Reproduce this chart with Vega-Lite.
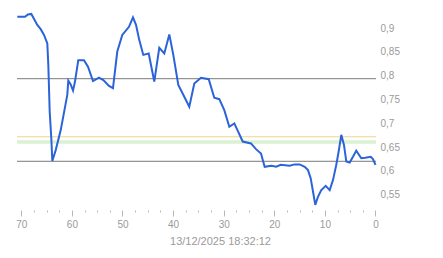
{
  "$schema": "https://vega.github.io/schema/vega-lite/v6.json",
  "autosize": {"type": "none"},
  "padding": {"left": 17, "top": 0, "right": 67, "bottom": 48},
  "width": 359,
  "height": 210,
  "background": "white",
  "config": {
    "view": {"stroke": null},
    "font": "Liberation Sans"
  },
  "datasets": {
    "series": [
      {"t": 70.79, "v": 0.930}, {"t": 69.27, "v": 0.930}, {"t": 68.68, "v": 0.935}, {"t": 68.02, "v": 0.936},
      {"t": 66.84, "v": 0.913}, {"t": 66.17, "v": 0.904}, {"t": 65.51, "v": 0.892}, {"t": 64.86, "v": 0.874},
      {"t": 64.66, "v": 0.829}, {"t": 64.39, "v": 0.731}, {"t": 64.07, "v": 0.675}, {"t": 63.87, "v": 0.627},
      {"t": 63.2, "v": 0.650}, {"t": 62.21, "v": 0.692}, {"t": 60.91, "v": 0.766}, {"t": 60.71, "v": 0.796},
      {"t": 60.24, "v": 0.788}, {"t": 59.78, "v": 0.775}, {"t": 59.39, "v": 0.794}, {"t": 58.74, "v": 0.839},
      {"t": 57.61, "v": 0.839}, {"t": 56.82, "v": 0.825}, {"t": 55.83, "v": 0.795}, {"t": 54.65, "v": 0.802},
      {"t": 53.79, "v": 0.797}, {"t": 52.67, "v": 0.785}, {"t": 51.88, "v": 0.780}, {"t": 51.03, "v": 0.857},
      {"t": 50.04, "v": 0.892}, {"t": 48.72, "v": 0.909}, {"t": 47.93, "v": 0.929}, {"t": 47.33, "v": 0.913},
      {"t": 46.68, "v": 0.881}, {"t": 45.89, "v": 0.850}, {"t": 44.82, "v": 0.853}, {"t": 43.72, "v": 0.794},
      {"t": 42.73, "v": 0.865}, {"t": 41.74, "v": 0.853}, {"t": 40.75, "v": 0.893}, {"t": 39.96, "v": 0.850},
      {"t": 38.97, "v": 0.787}, {"t": 37.79, "v": 0.762}, {"t": 36.80, "v": 0.741}, {"t": 35.81, "v": 0.790},
      {"t": 34.49, "v": 0.802}, {"t": 32.96, "v": 0.799}, {"t": 31.86, "v": 0.760}, {"t": 30.87, "v": 0.757},
      {"t": 29.88, "v": 0.734}, {"t": 28.89, "v": 0.699}, {"t": 27.90, "v": 0.706}, {"t": 26.24, "v": 0.668},
      {"t": 24.61, "v": 0.664}, {"t": 23.62, "v": 0.652}, {"t": 22.63, "v": 0.643}, {"t": 21.90, "v": 0.615},
      {"t": 20.59, "v": 0.617}, {"t": 19.61, "v": 0.615}, {"t": 18.74, "v": 0.619}, {"t": 16.96, "v": 0.617},
      {"t": 15.97, "v": 0.620}, {"t": 14.98, "v": 0.620}, {"t": 13.99, "v": 0.615}, {"t": 13.34, "v": 0.608},
      {"t": 12.81, "v": 0.591}, {"t": 12.35, "v": 0.563}, {"t": 11.90, "v": 0.535}, {"t": 11.37, "v": 0.552},
      {"t": 10.71, "v": 0.566}, {"t": 9.84, "v": 0.575}, {"t": 9.05, "v": 0.566}, {"t": 8.40, "v": 0.587},
      {"t": 7.75, "v": 0.619}, {"t": 7.28, "v": 0.647}, {"t": 6.76, "v": 0.682}, {"t": 6.23, "v": 0.661},
      {"t": 5.77, "v": 0.626}, {"t": 5.10, "v": 0.624}, {"t": 4.45, "v": 0.636}, {"t": 3.80, "v": 0.649},
      {"t": 2.81, "v": 0.633}, {"t": 2.02, "v": 0.634}, {"t": 0.95, "v": 0.636}, {"t": 0.50, "v": 0.631},
      {"t": 0.0, "v": 0.619}
    ],
    "refs": [
      {"level": 0.8, "kind": "dark"},
      {"level": 0.678, "kind": "yellow"},
      {"level": 0.669, "kind": "green"},
      {"level": 0.665, "kind": "green"},
      {"level": 0.6265, "kind": "dark"}
    ]
  },
  "layer": [
    {
      "data": {"name": "refs"},
      "mark": {"type": "rule", "strokeWidth": 1},
      "encoding": {
        "y": {"field": "level", "type": "quantitative", "scale": {"domain": [0.5242, 0.9653], "nice": false, "zero": false}},
        "color": {
          "field": "kind", "type": "nominal", "legend": null,
          "scale": {"domain": ["dark", "yellow", "green"], "range": ["#7a7a7a", "#f0d48c", "#bfe6b2"]}
        }
      }
    },
    {
      "data": {"name": "series"},
      "mark": {"type": "line", "color": "#2b63d9", "strokeWidth": 2, "interpolate": "linear"},
      "encoding": {
        "x": {
          "field": "t", "type": "quantitative",
          "scale": {"domain": [70.85, -0.1], "nice": false, "zero": false},
          "axis": {
            "orient": "bottom",
            "values": [0, 2.5, 5, 7.5, 10, 12.5, 15, 17.5, 20, 22.5, 25, 27.5, 30, 32.5, 35, 37.5, 40, 42.5, 45, 47.5, 50, 52.5, 55, 57.5, 60, 62.5, 65, 67.5, 70],
            "tickCount": 200,
            "labelExpr": "datum.value % 10 === 0 ? format(datum.value, 'd') : ''",
            "labelOverlap": false,
            "domain": false,
            "grid": false,
            "tickColor": "#b8b8b8",
            "tickSize": {"condition": {"test": "datum.value % 10 === 0", "value": 6}, "value": 2},
            "labelColor": "#9a9a9a",
            "labelFontSize": 10,
            "labelPadding": 3,
            "labelFlush": false,
            "title": "13/12/2025 18:32:12",
            "titleColor": "#9a9a9a",
            "titleFontSize": 11,
            "titleFontWeight": "normal",
            "titleX": 203,
            "titleY": 34.3,
            "titleAlign": "center",
            "titleBaseline": "alphabetic",
            "titleAnchor": null
          }
        },
        "y": {
          "field": "v", "type": "quantitative",
          "scale": {"domain": [0.5242, 0.9653], "nice": false, "zero": false},
          "axis": {
            "orient": "right",
            "values": [0.55, 0.6, 0.65, 0.7, 0.75, 0.8, 0.85, 0.9],
            "tickCount": 200,
            "labelExpr": "replace(format(datum.value, '.2~f'), '.', ',')",
            "labelOverlap": false,
            "domain": false,
            "ticks": false,
            "grid": false,
            "labelColor": "#9a9a9a",
            "labelFontSize": 10,
            "labelPadding": 4,
            "labelBaseline": "alphabetic",
            "title": null
          }
        }
      }
    }
  ]
}
